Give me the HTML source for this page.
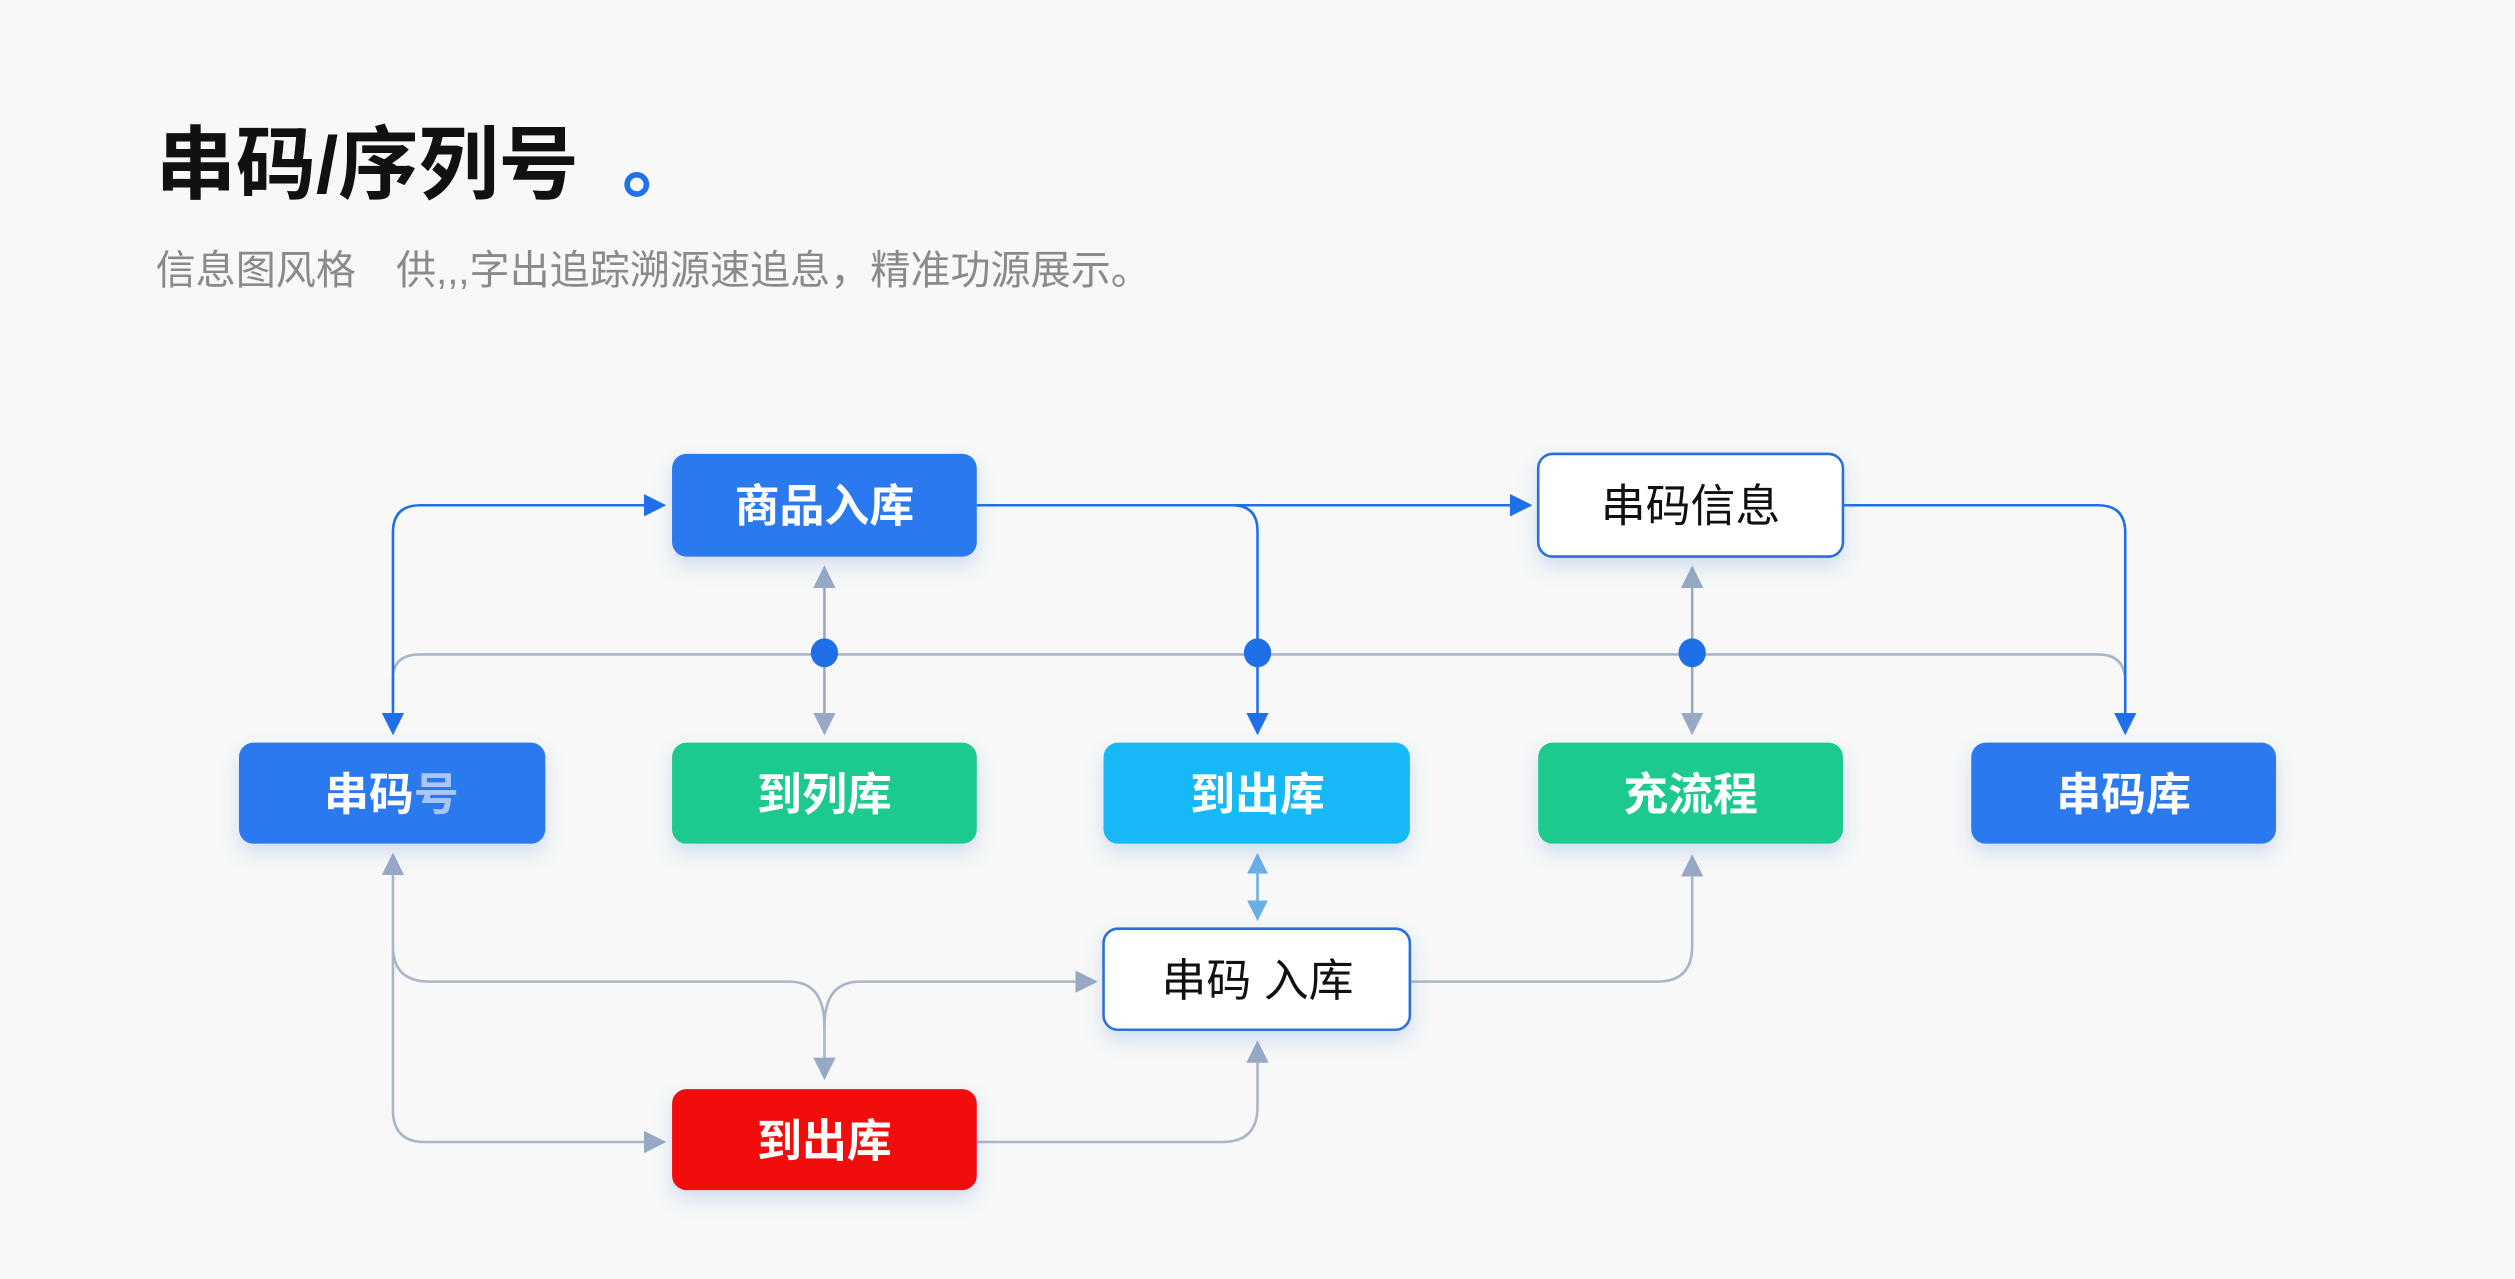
<!DOCTYPE html>
<html><head><meta charset="utf-8"><style>
html,body{margin:0;padding:0;background:#f7f8f7;}
svg{display:block}
text{font-family:"Liberation Sans","Noto Sans CJK SC",sans-serif}
</style></head><body>
<svg width="2515" height="1279" viewBox="0 0 1568 797.4" preserveAspectRatio="none" xmlns="http://www.w3.org/2000/svg">
<defs>
<filter id="sh" x="-20%" y="-30%" width="140%" height="180%"><feDropShadow dx="0" dy="6" stdDeviation="6" flood-color="#4a7fd8" flood-opacity="0.22"/></filter>
<marker id="ab" viewBox="0 0 10 10" refX="9" refY="5" markerWidth="14" markerHeight="14" markerUnits="userSpaceOnUse" orient="auto"><path d="M0,0L10,5L0,10z" fill="#1e6fe8"/></marker>
<marker id="abr" viewBox="0 0 10 10" refX="1" refY="5" markerWidth="14" markerHeight="14" markerUnits="userSpaceOnUse" orient="auto"><path d="M10,0L0,5L10,10z" fill="#1e6fe8"/></marker>
<marker id="ag" viewBox="0 0 10 10" refX="9" refY="5" markerWidth="14" markerHeight="14" markerUnits="userSpaceOnUse" orient="auto"><path d="M0,0L10,5L0,10z" fill="#97a9c4"/></marker>
<marker id="agr" viewBox="0 0 10 10" refX="1" refY="5" markerWidth="14" markerHeight="14" markerUnits="userSpaceOnUse" orient="auto"><path d="M10,0L0,5L10,10z" fill="#97a9c4"/></marker>
<marker id="al" viewBox="0 0 10 10" refX="9" refY="5" markerWidth="13" markerHeight="13" markerUnits="userSpaceOnUse" orient="auto"><path d="M0,0L10,5L0,10z" fill="#6aaee8"/></marker>
<marker id="alr" viewBox="0 0 10 10" refX="1" refY="5" markerWidth="13" markerHeight="13" markerUnits="userSpaceOnUse" orient="auto"><path d="M10,0L0,5L10,10z" fill="#6aaee8"/></marker>
</defs>
<rect width="1568" height="797.4" fill="#f7f8f7"/>
<text x="97" y="120" font-size="50" font-weight="bold" fill="#111">串码/序列号</text>
<circle cx="397" cy="115" r="6" fill="none" stroke="#1e73e8" stroke-width="3.5"/>
<text x="97" y="177" font-size="25" fill="#8a8a8a">信息图风格　供,,,字出追踪溯源速追息，精准功源展示。</text>

<g fill="none" stroke-width="1.6">
<path d="M245,440 V423 Q245,408 262,408 H1308 Q1325,408 1325,425" stroke="#a9b6c8"/>
<path d="M245,457 V332 Q245,315 262,315 H414" stroke="#1e6fe8" marker-start="url(#abr)" marker-end="url(#ab)"/>
<path d="M609,315 H954" stroke="#1e6fe8" marker-end="url(#ab)"/>
<path d="M760,315 H768 Q784,315 784,331 V457" stroke="#1e6fe8" marker-end="url(#ab)"/>
<path d="M1149,315 H1308 Q1325,315 1325,332 V457" stroke="#1e6fe8" marker-end="url(#ab)"/>
<path d="M514,354 V457" stroke="#97a9c4" marker-start="url(#agr)" marker-end="url(#ag)"/>
<path d="M1055,354 V457" stroke="#97a9c4" marker-start="url(#agr)" marker-end="url(#ag)"/>
<path d="M784,533 V573" stroke="#6aaee8" marker-start="url(#alr)" marker-end="url(#al)"/>
<path d="M245,533 V590 Q245,612 268,612 H492 Q514,612 514,640 V672" stroke="#a9b6c8" marker-start="url(#agr)" marker-end="url(#ag)"/>
<path d="M514,640 Q514,612 536,612 H683" stroke="#a9b6c8" marker-end="url(#ag)"/>
<path d="M245,590 V692 Q245,712 265,712 H414" stroke="#a9b6c8" marker-end="url(#ag)"/>
<path d="M609,712 H762 Q784,712 784,690 V650" stroke="#a9b6c8" marker-end="url(#ag)"/>
<path d="M879,612 H1033 Q1055,612 1055,590 V534" stroke="#a9b6c8" marker-end="url(#ag)"/>
</g>
<g fill="#1e6fe8"><ellipse cx="514" cy="407" rx="8.5" ry="9"/><ellipse cx="784" cy="407" rx="8.5" ry="9"/><ellipse cx="1055" cy="407" rx="8.5" ry="9"/></g>

<g filter="url(#sh)">
<rect x="419" y="283" width="190" height="64" rx="9" fill="#2a79ef"/>
<rect x="959" y="283" width="190" height="64" rx="9" fill="#fff" stroke="#2a6fdc" stroke-width="1.6"/>
<rect x="149" y="463" width="191" height="63" rx="9" fill="#2a79ef"/>
<rect x="419" y="463" width="190" height="63" rx="9" fill="#1fca8d"/>
<rect x="688" y="463" width="191" height="63" rx="9" fill="#18b8f6"/>
<rect x="959" y="463" width="190" height="63" rx="9" fill="#1fca8d"/>
<rect x="1229" y="463" width="190" height="63" rx="9" fill="#2a79ef"/>
<rect x="688" y="579" width="191" height="63" rx="9" fill="#fff" stroke="#2a6fdc" stroke-width="1.6"/>
<rect x="419" y="679" width="190" height="63" rx="9" fill="#f20b0b"/>
</g>
<g font-size="28" font-weight="bold" text-anchor="middle" fill="#fff">
<text x="514" y="325">商品入库</text>
<text x="1054" y="325" fill="#111" font-weight="normal">串码信息</text>
<text x="244" y="505">串码<tspan fill="#a9c6f5">号</tspan></text>
<text x="514" y="505">到列库</text>
<text x="784" y="505">到出库</text>
<text x="1054" y="505">充流程</text>
<text x="1324" y="505">串码库</text>
<text x="784" y="621" fill="#111" font-weight="normal">串码 入库</text>
<text x="514" y="721">到出库</text>
</g>
</svg>
</body></html>
